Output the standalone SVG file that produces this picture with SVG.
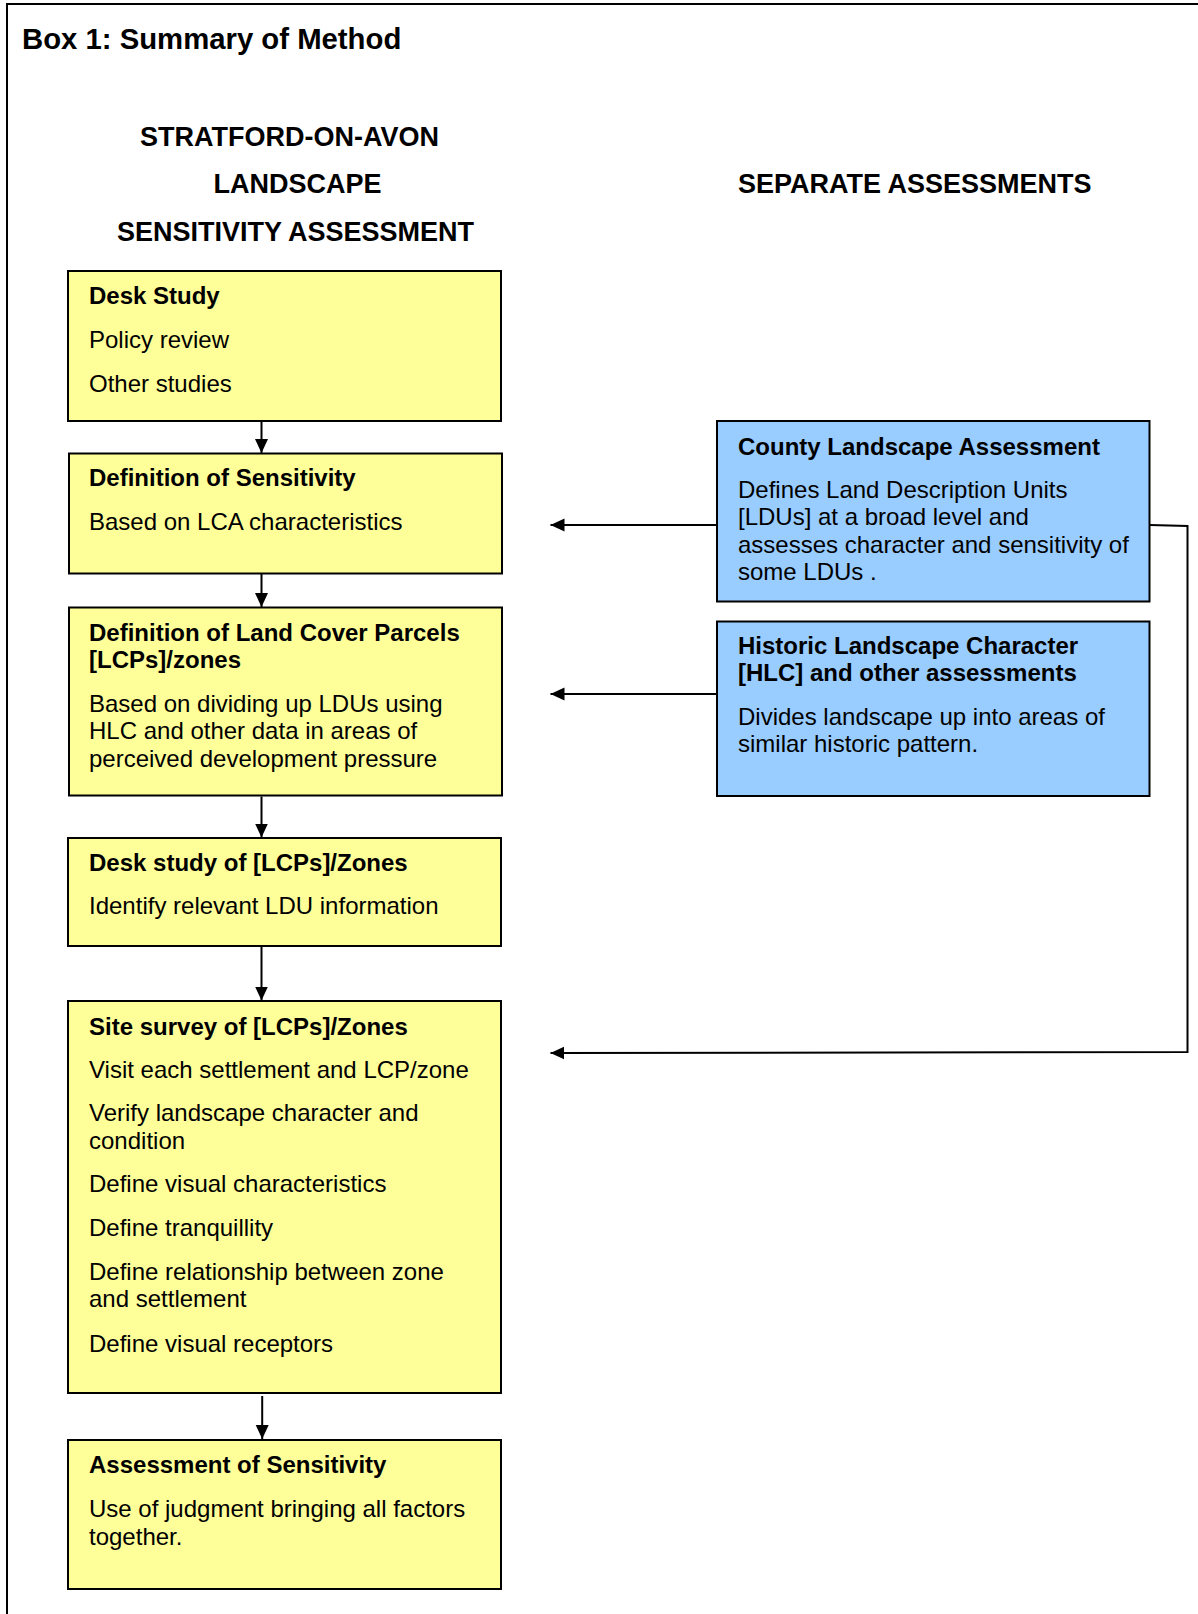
<svg xmlns="http://www.w3.org/2000/svg" width="1198" height="1614" viewBox="0 0 1198 1614">
<style>
text{font-family:"Liberation Sans",Arial,sans-serif;fill:#000}
.t{font-size:29.3px;font-weight:bold}
.h{font-size:27px;font-weight:bold}
.b{font-size:24px;font-weight:bold}
.r{font-size:24px}
.y{fill:#FFFF99;stroke:#000;stroke-width:2}
.bl{fill:#99CCFF;stroke:#000;stroke-width:2}
.c{fill:none;stroke:#000;stroke-width:2}
</style>
<defs>
<marker id="ah" markerUnits="userSpaceOnUse" markerWidth="15" markerHeight="14" refX="14" refY="7" orient="auto">
<path d="M0,0.5 L14,7 L0,13.5 z" fill="#000"/>
</marker>
</defs>
<rect width="1198" height="1614" fill="#fff"/>
<g id="frame">
<path d="M6,4 H1198 M7,4 V1614" fill="none" stroke="#000" stroke-width="2"/>
</g>
<g id="headings">
<text class="t" x="22" y="49">Box 1: Summary of Method</text>
<text class="h" x="140" y="146">STRATFORD-ON-AVON</text>
<text class="h" x="213.5" y="193">LANDSCAPE</text>
<text class="h" x="117" y="240.5">SENSITIVITY ASSESSMENT</text>
<text class="h" x="738" y="193">SEPARATE ASSESSMENTS</text>
</g>
<g id="desk-study">
<rect class="y" x="68" y="271" width="433" height="150"/>
<text class="b" x="89" y="304">Desk Study</text>
<text class="r" x="89" y="348">Policy review</text>
<text class="r" x="89" y="391.5">Other studies</text>
</g>
<g id="definition-sensitivity">
<rect class="y" x="69" y="453.5" width="433" height="120"/>
<text class="b" x="89" y="486">Definition of Sensitivity</text>
<text class="r" x="89" y="529.5">Based on LCA characteristics</text>
</g>
<g id="definition-lcp">
<rect class="y" x="69" y="607.5" width="433" height="188"/>
<text class="b" x="89" y="640.5">Definition of Land Cover Parcels</text>
<text class="b" x="89" y="668">[LCPs]/zones</text>
<text class="r" x="89" y="711.5">Based on dividing up LDUs using</text>
<text class="r" x="89" y="739">HLC and other data in areas of</text>
<text class="r" x="89" y="766.5">perceived development pressure</text>
</g>
<g id="desk-study-lcp">
<rect class="y" x="68" y="838" width="433" height="108"/>
<text class="b" x="89" y="870.5">Desk study of [LCPs]/Zones</text>
<text class="r" x="89" y="913.5">Identify relevant LDU information</text>
</g>
<g id="site-survey">
<rect class="y" x="68" y="1001" width="433" height="392"/>
<text class="b" x="89" y="1034.5">Site survey of [LCPs]/Zones</text>
<text class="r" x="89" y="1077.5">Visit each settlement and LCP/zone</text>
<text class="r" x="89" y="1121">Verify landscape character and</text>
<text class="r" x="89" y="1148.5">condition</text>
<text class="r" x="89" y="1192">Define visual characteristics</text>
<text class="r" x="89" y="1236">Define tranquillity</text>
<text class="r" x="89" y="1280">Define relationship between zone</text>
<text class="r" x="89" y="1307">and settlement</text>
<text class="r" x="89" y="1351.5">Define visual receptors</text>
</g>
<g id="assessment-sensitivity">
<rect class="y" x="68" y="1440" width="433" height="149"/>
<text class="b" x="89" y="1473">Assessment of Sensitivity</text>
<text class="r" x="89" y="1517">Use of judgment bringing all factors</text>
<text class="r" x="89" y="1545">together.</text>
</g>
<g id="county-lca">
<rect class="bl" x="717" y="421" width="432.5" height="180.5"/>
<text class="b" x="738" y="454.5">County Landscape Assessment</text>
<text class="r" x="738" y="498">Defines Land Description Units</text>
<text class="r" x="738" y="525">[LDUs] at a broad level and</text>
<text class="r" x="738" y="552.5">assesses character and sensitivity of</text>
<text class="r" x="738" y="579.5">some LDUs .</text>
</g>
<g id="hlc">
<rect class="bl" x="717" y="621.5" width="432.5" height="174.5"/>
<text class="b" x="738" y="653.5">Historic Landscape Character</text>
<text class="b" x="738" y="681">[HLC] and other assessments</text>
<text class="r" x="738" y="725">Divides landscape up into areas of</text>
<text class="r" x="738" y="752">similar historic pattern.</text>
</g>
<g id="connectors">
<path class="c" d="M261.5,422 V453" marker-end="url(#ah)"/>
<path class="c" d="M261.5,574 V607" marker-end="url(#ah)"/>
<path class="c" d="M261.5,796.5 V837.5" marker-end="url(#ah)"/>
<path class="c" d="M261.5,946.5 V1000.5" marker-end="url(#ah)"/>
<path class="c" d="M262.2,1396 V1439" marker-end="url(#ah)"/>
<path class="c" d="M717,525 H550.5" marker-end="url(#ah)"/>
<path class="c" d="M717,694 H550.5" marker-end="url(#ah)"/>
<path class="c" d="M1150,525 L1187.5,526 V1052 L550.5,1053" marker-end="url(#ah)"/>
</g>
</svg>
